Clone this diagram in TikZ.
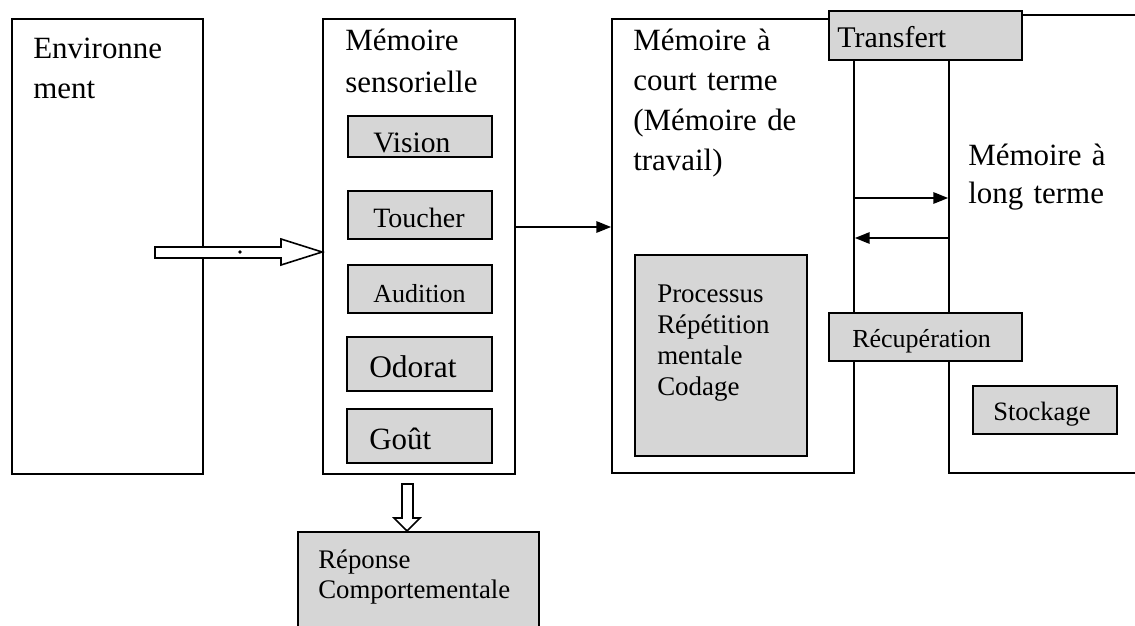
\documentclass[tikz,border=0pt]{standalone}
\usepackage{fontspec}
\setmainfont{Liberation Serif}
\usetikzlibrary{arrows.meta,fit,calc}
\newcommand\fsz[2]{\fontsize{#1pt}{#2pt}\selectfont}
\begin{document}
\begin{tikzpicture}[x=0.75pt,y=-0.75pt,
  frame/.style={draw, line width=1.3pt, inner sep=0pt, fill=white},
  sense/.style={draw, line width=1.7pt, inner sep=0pt, fill=black!16},
  lab/.style={anchor=base west, inner sep=0pt, align=left, text width=300pt},
  conn/.style={line width=1.2pt, -{Triangle[length=11pt,width=8.5pt]}},
  hollow/.style={draw, line width=1.2pt, fill=white, line join=miter}]

\useasboundingbox (0,0) rectangle (1135,625);
\clip (0,0) rectangle (1135,625);

% main memory stages
\node[frame, fit={(12,19) (203,474)}] (env) {};
\node[frame, fit={(323,19) (515,474)}] (sens) {};
\node[frame, fit={(612,19) (854,473)}] (court) {};
\node[frame, fit={(949,15) (1180,473)}] (long) {};

\node[lab, font=\fsz{23.2}{30}] (envT) at (33,58) {Environne\\ment};
\node[lab, font=\fsz{23.2}{32}] (sensT) at (345,50) {Mémoire\\sensorielle};
\node[lab, font=\fsz{23.2}{30}] (courtT) at (633,50) {Mémoire à\\court terme\\(Mémoire de\\travail)};
\node[lab, font=\fsz{23.2}{29}] (longT) at (968,165) {Mémoire à\\long terme};

% sensory channels
\node[sense, fit={(348,116) (492,157)}] (vision) {};
\node[sense, fit={(348,191) (492,239)}] (toucher) {};
\node[sense, fit={(348,265) (492,313)}] (audition) {};
\node[sense, fit={(347,337) (492,391)}] (odorat) {};
\node[sense, fit={(347,409) (492,463)}] (gout) {};
\node[lab, font=\fsz{22.2}{26}] (visionT) at (373,152) {Vision};
\node[lab, font=\fsz{21}{25}] (toucherT) at (373,227) {Toucher};
\node[lab, font=\fsz{19.5}{23}] (auditionT) at (373,302) {Audition};
\node[lab, font=\fsz{23.6}{27}] (odoratT) at (369,377) {Odorat};
\node[lab, font=\fsz{23.2}{27}] (goutT) at (369,449) {Goût};

% processes in working memory and long-term memory
\node[sense, fit={(635,255) (807,456)}] (proc) {};
\node[lab, font=\fsz{20.2}{23.3}] (procT) at (657,302) {Processus\\Répétition\\mentale\\Codage};
\node[sense, fit={(973,386) (1117,434)}] (stock) {};
\node[lab, font=\fsz{19.9}{22}] (stockT) at (993,420) {Stockage};

% behavioural response
\node[sense, fit={(298,532) (539,660)}] (rep) {};
\node[lab, font=\fsz{20.1}{22.5}] (repT) at (318,568) {Réponse\\Comportementale};

% exchanges between short- and long-term memory
\coordinate (yb) at (0,198);
\coordinate (yc) at (0,238);
\draw[conn] (court.east |- yb) -- (long.west |- yb);
\draw[conn] (long.west |- yc) -- (court.east |- yc);
\node[sense, fit={(829,11) (1022,60)}] (transfert) {};
\node[lab, font=\fsz{22.5}{26}] (transfertT) at (837,47) {Transfert};
\node[sense, fit={(829,313) (1022,361)}] (recup) {};
\node[lab, font=\fsz{19.5}{23}] (recupT) at (852,347) {Récupération};

% sensory memory to working memory
\coordinate (ya) at (0,227);
\draw[conn] (sens.east |- ya) -- (court.west |- ya);

% environment to sensory memory (hollow arrow)
\coordinate (yd) at (0,252);
\draw[hollow] (155,247) -- (281,247) -- (281,239) -- (sens.west |- yd)
  -- (281,265) -- (281,258) -- (155,258) -- cycle;
\fill (240,252) circle (1.8);

% sensory memory to response (hollow arrow)
\coordinate (xd) at (407,0);
\draw[hollow] (402,484) -- (413,484) -- (413,518) -- (420,518) -- (xd |- rep.north)
  -- (394,518) -- (402,518) -- cycle;
\end{tikzpicture}
\end{document}
